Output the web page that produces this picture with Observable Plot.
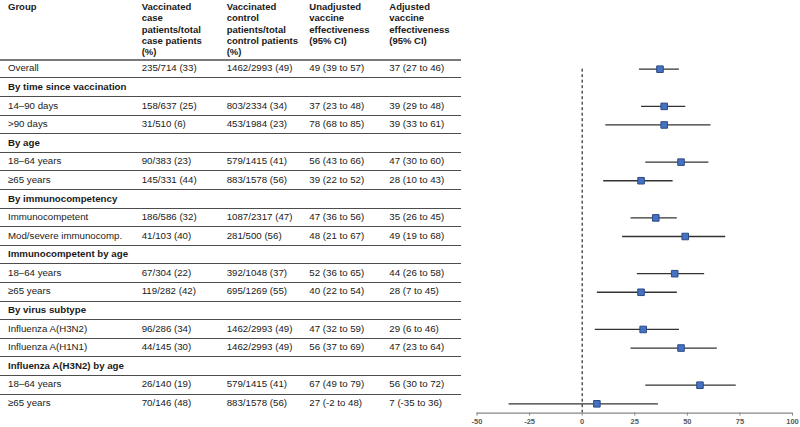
<!DOCTYPE html>
<html>
<head>
<meta charset="utf-8">
<script src="https://cdn.jsdelivr.net/npm/d3@7"></script>
<script src="https://cdn.jsdelivr.net/npm/@observablehq/plot@0.6"></script>
<style>
  html, body { margin: 0; padding: 0; background: #fff; }
  #wrap { position: relative; width: 800px; height: 427px; overflow: hidden;
          font-family: "Liberation Sans", Arial, sans-serif; color: #1a1a1a; }
  #table { position: absolute; left: 0; top: 0; width: 461px; height: 427px; }
  .hcell { position: absolute; top: 1px; font-size: 9.5px; font-weight: bold; line-height: 11.25px; white-space: pre-line; }
  .cell { position: absolute; font-size: 9.7px; white-space: nowrap; }
  .bold { font-weight: bold; }
  .hline { position: absolute; left: 0; width: 461px; height: 1px; background: #4d4d4d; }
  #plot { position: absolute; left: 0; top: 0; }
  #plot svg g[aria-label="x-axis tick label"] { font-weight: bold; }
</style>
</head>
<body>
<div id="wrap">
  <div id="table"></div>
  <div id="plot"></div>
</div>
<script>
// ---------- data ----------
const headers = [
  "Group",
  "Vaccinated\ncase\npatients/total\ncase patients\n(%)",
  "Vaccinated\ncontrol\npatients/total\ncontrol patients\n(%)",
  "Unadjusted\nvaccine\neffectiveness\n(95% CI)",
  "Adjusted\nvaccine\neffectiveness\n(95% CI)"
];
const groups = ["Overall","By time since vaccination","14–90 days",">90 days","By age","18–64 years","≥65 years",
  "By immunocompetency","Immunocompetent","Mod/severe immunocomp.","Immunocompetent by age","18–64 years","≥65 years",
  "By virus subtype","Influenza A(H3N2)","Influenza A(H1N1)","Influenza A(H3N2) by age","18–64 years","≥65 years"];
const sectionRow = [false,true,false,false,true,false,false,true,false,false,true,false,false,true,false,false,true,false,false];
const casePatients = ["235/714 (33)",null,"158/637 (25)","31/510 (6)",null,"90/383 (23)","145/331 (44)",null,
  "186/586 (32)","41/103 (40)",null,"67/304 (22)","119/282 (42)",null,"96/286 (34)","44/145 (30)",null,"26/140 (19)","70/146 (48)"];
const controlPatients = ["1462/2993 (49)",null,"803/2334 (34)","453/1984 (23)",null,"579/1415 (41)","883/1578 (56)",null,
  "1087/2317 (47)","281/500 (56)",null,"392/1048 (37)","695/1269 (55)",null,"1462/2993 (49)","1462/2993 (49)",null,"579/1415 (41)","883/1578 (56)"];
const unadjustedVE = ["49 (39 to 57)",null,"37 (23 to 48)","78 (68 to 85)",null,"56 (43 to 66)","39 (22 to 52)",null,
  "47 (36 to 56)","48 (21 to 67)",null,"52 (36 to 65)","40 (22 to 54)",null,"47 (32 to 59)","56 (37 to 69)",null,"67 (49 to 79)","27 (-2 to 48)"];
const adjustedVE = ["37 (27 to 46)",null,"39 (29 to 48)","39 (33 to 61)",null,"47 (30 to 60)","28 (10 to 43)",null,
  "35 (26 to 45)","49 (19 to 68)",null,"44 (26 to 58)","28 (7 to 45)",null,"29 (6 to 46)","47 (23 to 64)",null,"56 (30 to 72)","7 (-35 to 36)"];
// plotted estimates (as drawn in the forest plot)
const plotVE = [37,null,39,39,null,47,28,null,35,49,null,44,28,null,29,47,null,56,7];
const plotLo = [27,null,28,11,null,30,10,null,23,19,null,26,7,null,6,23,null,30,-35];
const plotHi = [46,null,49,61,null,60,43,null,45,68,null,58,45,null,46,64,null,73,36];
const xTicks = [-50,-25,0,25,50,75,100];

// ---------- layout ----------
const H = 427, W = 800;
const marginTop = 59.4, marginBottom = 14.4;
const rowH = (H - marginTop - marginBottom) / groups.length;
const colX = [8, 141.7, 226.7, 309.3, 389.3];

// ---------- table ----------
const table = document.getElementById("table");
headers.forEach((h, j) => {
  const d = document.createElement("div");
  d.className = "hcell";
  d.style.left = colX[j] + "px";
  d.textContent = h;
  table.appendChild(d);
});
const columns = [groups, casePatients, controlPatients, unadjustedVE, adjustedVE];
groups.forEach((g, i) => {
  const top = marginTop + i * rowH;
  const ln = document.createElement("div");
  ln.className = "hline";
  if (i === 0) { ln.style.top = (top - 0.5) + "px"; ln.style.height = "2px"; ln.style.background = "#7a7a7a"; }
  else { ln.style.top = (top - 0.5) + "px"; }
  table.appendChild(ln);
  columns.forEach((col, j) => {
    const v = col[i];
    if (v == null) return;
    const c = document.createElement("div");
    c.className = "cell" + (sectionRow[i] && j === 0 ? " bold" : "");
    c.style.left = colX[j] + "px";
    c.style.top = top + "px";
    c.style.height = rowH + "px";
    c.style.lineHeight = rowH + "px";
    c.textContent = v;
    table.appendChild(c);
  });
});

// ---------- forest plot ----------
const rows = groups.map((g, i) => ({i, g, ve: plotVE[i], lo: plotLo[i], hi: plotHi[i]}));
const pts = rows.filter(d => d.ve != null);

const chart = Plot.plot({
  width: W, height: H,
  marginLeft: 476.5, marginRight: 8, marginTop, marginBottom,
  style: {background: "transparent", fontFamily: "Liberation Sans, Arial, sans-serif", overflow: "visible"},
  x: {domain: [-50, 100], axis: null},
  y: {domain: [-0.5, groups.length - 0.5], reverse: true, axis: null},
  marks: [
    Plot.ruleX([0], {y1: 0, y2: groups.length - 0.5, stroke: "#000", strokeWidth: 1, strokeDasharray: "3,2.5"}),
    Plot.ruleY([groups.length - 0.5], {stroke: "#868686", strokeWidth: 1.2}),
    Plot.link(pts, {x1: "lo", x2: "hi", y1: "i", y2: "i", stroke: "#333", strokeWidth: 1.3}),
    Plot.dot(pts, {x: "ve", y: "i", symbol: "square", r: 3.7, fill: "#4472C4", stroke: "#2F4A7F", strokeWidth: 1}),
    Plot.axisX({ticks: xTicks, tickSize: 3, tickPadding: 3, fontSize: 7.5, fontWeight: "bold", tickFormat: d => String(d),
                fill: "#595959", stroke: "#868686"})
  ]
});
document.getElementById("plot").appendChild(chart);
</script>
</body>
</html>
